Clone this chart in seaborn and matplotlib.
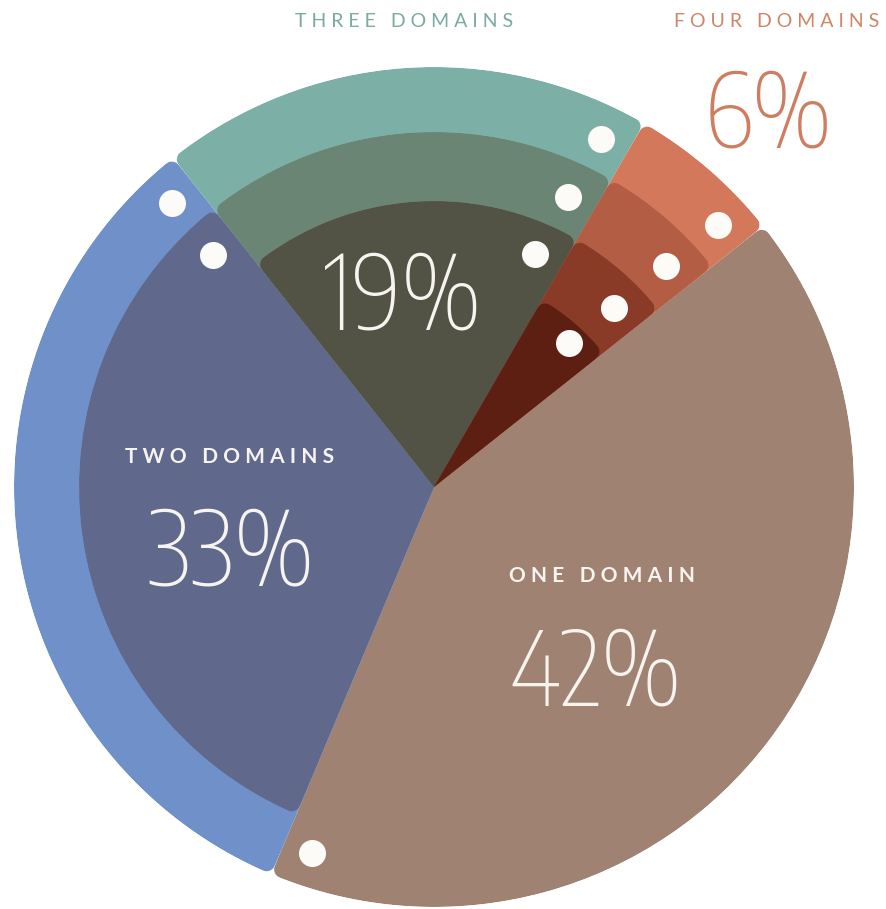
import math
import matplotlib
matplotlib.use("Agg")
import matplotlib.pyplot as plt
from matplotlib.patches import Wedge
from matplotlib import font_manager
from matplotlib.font_manager import FontProperties
import seaborn as sns

# ---------------- data ----------------
categories = ["ONE DOMAIN", "TWO DOMAINS", "THREE DOMAINS", "FOUR DOMAINS"]
shares = [42, 33, 19, 6]
share_labels = ["42%", "33%", "19%", "6%"]
ring_counts = [1, 2, 3, 4]

# ---------------- style ----------------
sns.set_theme(style="white")
plt.rcParams["font.family"] = ["Lato", "DejaVu Sans"]

ring_colors = {
    "ONE DOMAIN": ["#a08273"],
    "TWO DOMAINS": ["#6f90c8", "#60698c"],
    "THREE DOMAINS": ["#7cb0a6", "#6b8575", "#525345"],
    "FOUR DOMAINS": ["#d3785a", "#b35e44", "#8a3b27", "#5e1f13"],
}
RADII = [420, 355, 286, 216]       # ring outer radii (px)
DOT_R = [386, 320, 254, 197]       # dot radii (px)
DOT_ARC = 29                        # px from clockwise edge
CORNER = 18                         # corner rounding stroke width (px)
START = 38.4


def weight_num(w):
    if isinstance(w, (int, float)):
        return w
    table = {"thin": 100, "extralight": 200, "ultralight": 200, "light": 300,
             "normal": 400, "regular": 400, "book": 400, "medium": 500,
             "semibold": 600, "demibold": 600, "bold": 700, "extrabold": 800,
             "heavy": 900, "black": 900}
    return table.get(str(w).lower(), 400)


def pick_big_font():
    cands = []
    for f in font_manager.fontManager.ttflist:
        nm = f.name.lower()
        fn = f.fname.lower()
        cond = ("cond" in nm or "narrow" in nm or "cond" in fn or "narrow" in fn
                or f.stretch in ("condensed", "semi-condensed", "extra-condensed",
                                 "ultra-condensed", 250, 300, 375))
        if cond and f.style == "normal":
            cands.append((weight_num(f.weight), f.fname))
    if cands:
        cands.sort()
        return FontProperties(fname=cands[0][1])
    return FontProperties(family=["Roboto", "DejaVu Sans"], weight="light")


big_fp = pick_big_font()

W, H = 886, 909
CX, CY = 434, 487
fig = plt.figure(figsize=(W / 100, H / 100), dpi=100)
ax = fig.add_axes([0, 0, 1, 1])

px2pt = 72 / 100
dot_x, dot_y = [], []
for k, R in enumerate(RADII):
    cols = [ring_colors[c][k] if k < n else "none" for c, n in zip(categories, ring_counts)]
    wedges, _ = ax.pie(shares, radius=R, colors=cols, startangle=START,
                       counterclock=False, normalize=True,
                       wedgeprops=dict(linewidth=CORNER * px2pt, joinstyle="round"))
    for w, c, n in zip(wedges, categories, ring_counts):
        w.set_zorder(2 + k)
        if k >= n:
            w.set_visible(False)
            continue
        t1, t2, r = w.theta1, w.theta2, w.r
        clip = Wedge(w.center, r, t1, t2, transform=ax.transData)
        rr = r - CORNER / 2
        d = math.degrees(math.asin((CORNER / 2) / rr))
        w.set_radius(rr)
        w.set_theta1(t1 + d)
        w.set_theta2(t2 - d)
        w.set_edgecolor(w.get_facecolor())
        w.set_clip_path(clip)
        w.set_clip_on(True)
        a = math.radians(t1) + DOT_ARC / DOT_R[k]
        dot_x.append(DOT_R[k] * math.cos(a))
        dot_y.append(DOT_R[k] * math.sin(a))

ax.scatter(dot_x, dot_y, s=(27 * px2pt) ** 2, color="#fdfbf8", linewidths=0, zorder=20)

ax.set_xlim(-CX, W - CX)
ax.set_ylim(-(H - CY), CY)
ax.set_aspect("equal")
ax.axis("off")


def spaced(s, n=2):
    gap = "\u2009" * n
    return gap.join(s)


def P(px, py):
    return px - CX, CY - py


label_kw = dict(ha="center", va="baseline", zorder=30)
ax.text(*P(404, 27), spaced("THREE DOMAINS"), color="#7aaaa1", fontsize=14, **label_kw)
ax.text(*P(777, 27), spaced("FOUR DOMAINS"), color="#d08468", fontsize=14, **label_kw)
ax.text(*P(230, 463), spaced("TWO DOMAINS"), color="#f7f4f0", fontsize=15,
        fontweight="bold", **label_kw)
ax.text(*P(602, 582), spaced("ONE DOMAIN"), color="#f7f4f0", fontsize=15,
        fontweight="bold", **label_kw)

big_kw = dict(ha="center", va="baseline", zorder=30, fontproperties=big_fp)
BIG = 74
ax.text(*P(768, 148), share_labels[3], color="#cf7d60", fontsize=BIG, **big_kw)
ax.text(*P(403, 330), share_labels[2], color="#f7f4f0", fontsize=BIG, **big_kw)
ax.text(*P(230, 585), share_labels[1], color="#f7f4f0", fontsize=BIG, **big_kw)
ax.text(*P(595, 705), share_labels[0], color="#f7f4f0", fontsize=BIG, **big_kw)

fig.savefig("out.png", dpi=100, facecolor="white")
